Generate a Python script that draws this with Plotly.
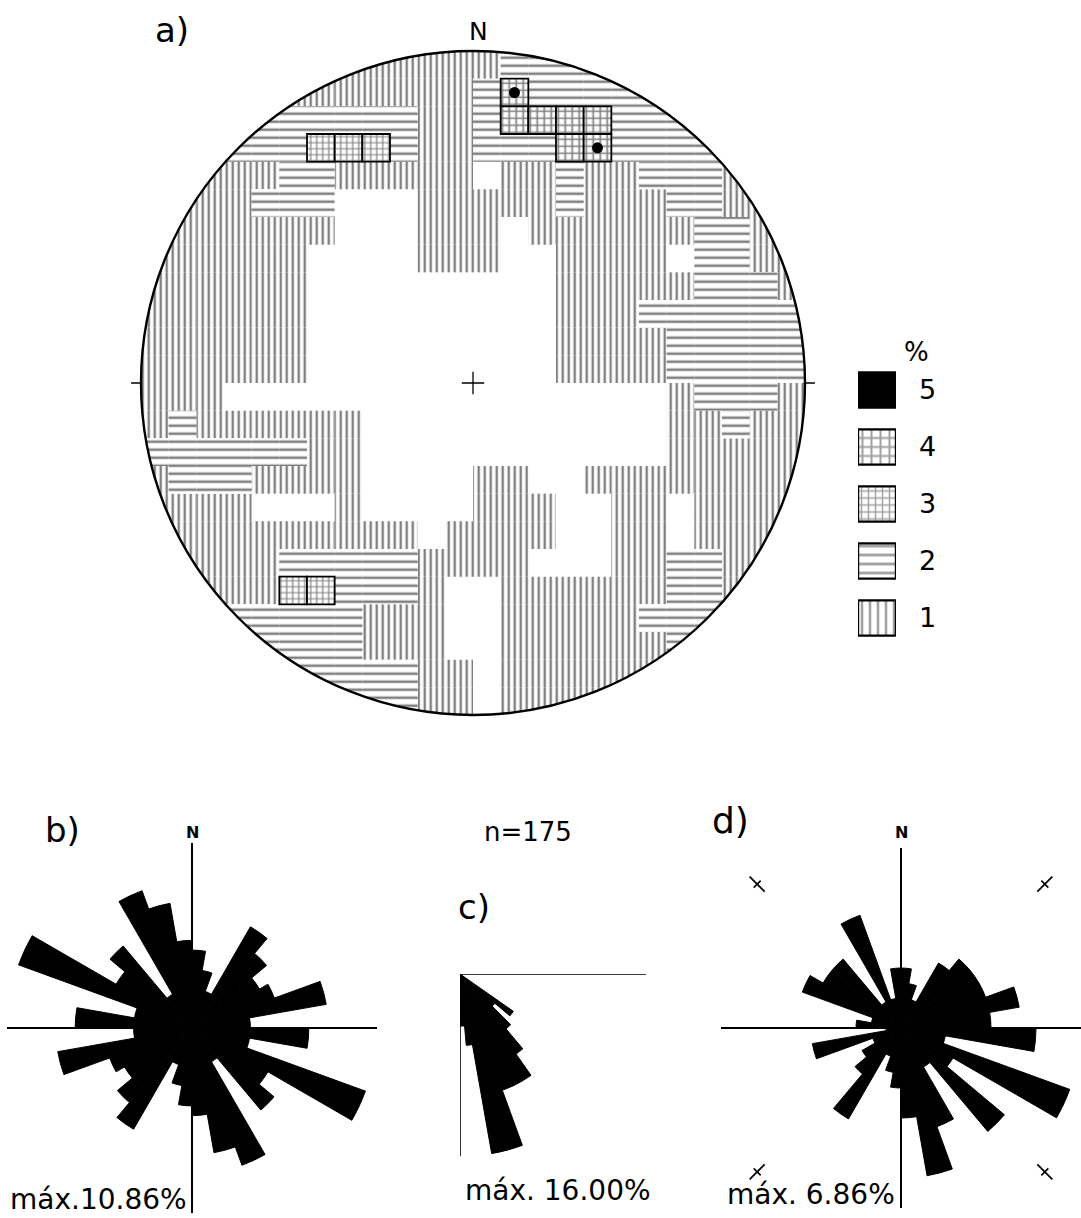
import math
import plotly.graph_objects as go

W, H = 1081, 1218

# ---------------- panel a: density levels (%), 24x24 grid, row 0 = north ----------------
LEVEL_GRID = [
    ".......1111112222.......",
    ".....11111112522222.....",
    "....2222221124444222....",
    "...222333211222452222...",
    "..11122111110112112221..",
    ".1112220001111121112211.",
    ".1111110001110111111221.",
    "111111000011100111102211",
    "111111000000000111112221",
    "111111000000000111222222",
    "111111000000000111122222",
    "111111000000000111122222",
    "111000000000000000012221",
    "121111110000000000011211",
    "222222110000000000011111",
    "122211110000110011111111",
    "111100010000111001101111",
    ".1111111110111100110111.",
    ".1111222221111000112211.",
    "..11133222100111111221..",
    "...222221110011111222...",
    "....2222111001111112....",
    ".....22222110111111.....",
    ".......2221101111.......",
]
LEGEND_LEVELS = [1, 2, 3, 4, 5]
LEGEND_LABELS = ["1", "2", "3", "4", "5"]

# ---------------- rose diagrams (n = 175) ----------------
N_TOTAL = 175
# b) axial data, 10 degree bins 0-180 (mirrored)
B_AZIMUTH = [5, 15, 25, 35, 45, 55, 65, 75, 85, 95, 105, 115, 125, 135, 145, 155, 165, 175]
B_COUNTS = [8, 6, 4, 12, 10, 8, 9, 14, 6, 12, 6, 19, 9, 11, 4, 15, 13, 9]
# c) dip angles, 5 degree bins
C_DIP = [37.5, 42.5, 47.5, 52.5, 57.5, 62.5, 67.5, 72.5, 77.5, 82.5, 87.5]
C_COUNTS = [10, 7, 11, 15, 19, 19, 19, 28, 28, 11, 8]
# d) directions, 10 degree bins 0-360
D_AZIMUTH = [5, 15, 25, 35, 45, 55, 65, 75, 85, 95, 105, 115, 125, 135, 145, 155, 165, 175,
             185, 195, 205, 215, 225, 235, 245, 255, 265, 275, 285, 295, 305, 315, 325, 335, 345, 355]
D_COUNTS = [4, 3, 2, 5, 6, 6, 6, 8, 6, 9, 3, 12, 4, 9, 3, 7, 10, 6,
            4, 3, 2, 7, 4, 3, 2, 6, 1, 3, 2, 7, 6, 6, 2, 8, 2, 4]
D_MARK_AZIMUTH = [45, 135, 225, 315]

FONT = "DejaVu Sans"


def px(x):
    return x / W


def py(y):
    return 1 - y / H


fig = go.Figure()

# ---------- stereonet ----------
NG = len(LEVEL_GRID)
cell = 2.0 / NG
STYLES = {
    1: dict(shape="|", size=6, solidity=0.4),
    2: dict(shape="-", size=8, solidity=0.32),
    3: dict(shape="+", size=6, solidity=0.36),
    4: dict(shape="+", size=7, solidity=0.42),
}
peak_x, peak_y = [], []
for lev in [1, 2, 3, 4]:
    xs, bases = [], []
    for j, row in enumerate(LEVEL_GRID):
        for i, ch in enumerate(row):
            if ch == ".":
                continue
            v = int(ch)
            if v == lev or (lev == 4 and v == 5):
                xs.append(-1 + (i + 0.5) * cell)
                bases.append(1 - (j + 1) * cell)
                if v == 5:
                    peak_x.append(-1 + (i + 0.5) * cell)
                    peak_y.append(1 - (j + 0.5) * cell)
    fig.add_trace(go.Bar(
        x=xs, y=[cell] * len(xs), base=bases, width=cell,
        xaxis="x", yaxis="y", hoverinfo="skip", showlegend=False,
        marker=dict(color="white",
                    line=dict(width=1.8 if lev >= 3 else 0, color="black"),
                    pattern=dict(fillmode="overlay", fgcolor="black", **STYLES[lev])),
    ))

fig.add_trace(go.Scatter(x=peak_x, y=peak_y, mode="markers", xaxis="x", yaxis="y",
                         marker=dict(color="black", size=11, symbol="circle"),
                         hoverinfo="skip", showlegend=False))
# centre cross and E/W ticks
fig.add_trace(go.Scatter(x=[0], y=[0], mode="markers", xaxis="x", yaxis="y",
                         marker=dict(symbol="cross-thin", size=16, line=dict(width=1.3, color="black")),
                         hoverinfo="skip", showlegend=False))
fig.add_trace(go.Scatter(x=[-1.013, 1.013], y=[0, 0], mode="markers", xaxis="x", yaxis="y",
                         marker=dict(symbol="line-ew", size=8, line=dict(width=1.3, color="black")),
                         hoverinfo="skip", showlegend=False))

# white mask outside the net
circ = [(math.cos(2 * math.pi * k / 240), math.sin(2 * math.pi * k / 240)) for k in range(240)]
path = "M -1 -1 L 1 -1 L 1 1 L -1 1 Z M " + " L ".join(f"{a:.5f} {b:.5f}" for a, b in circ) + " Z"
shapes = [
    dict(type="path", path=path, xref="x", yref="y", fillcolor="white", fillrule="evenodd",
         line=dict(width=0), layer="above"),
    dict(type="circle", xref="x", yref="y", x0=-1, y0=-1, x1=1, y1=1,
         line=dict(color="black", width=2.4), layer="above"),
]

CX, CY, R = 473, 383, 332
E = 1.04

# ---------- legend ----------
leg_colors = ["white", "white", "white", "white", "black"]
leg_shapes = ["|", "-", "+", "+", ""]
leg_sizes = [8, 9, 7, 9, 8]
leg_sol = [0.32, 0.32, 0.36, 0.4, 0.2]
fig.add_trace(go.Bar(
    y=LEGEND_LEVELS, x=[1] * 5, orientation="h", width=0.62, xaxis="x2", yaxis="y2",
    hoverinfo="skip", showlegend=False,
    marker=dict(color=leg_colors, line=dict(color="black", width=2.4),
                pattern=dict(shape=leg_shapes, size=leg_sizes, solidity=leg_sol,
                             fgcolor="black", fillmode="overlay")),
))

# ---------- rose diagrams ----------
pct = lambda c: [v / N_TOTAL * 100 for v in c]
b_pct = pct(B_COUNTS)
c_pct = pct(C_COUNTS)
d_pct = pct(D_COUNTS)
bmax, cmax, dmax = max(b_pct), max(c_pct), max(d_pct)

BAR_MARKER = dict(color="black", line=dict(width=1.0, color="black"))
fig.add_trace(go.Barpolar(theta=B_AZIMUTH + [a + 180 for a in B_AZIMUTH], r=b_pct + b_pct,
                          width=10, subplot="polar", marker=BAR_MARKER,
                          hoverinfo="skip", showlegend=False))
fig.add_trace(go.Barpolar(theta=C_DIP, r=c_pct, width=5, subplot="polar2", marker=BAR_MARKER,
                          hoverinfo="skip", showlegend=False))
# c) axes: horizontal (0 deg dip) and vertical (90 deg dip)
fig.add_trace(go.Scatterpolar(theta=[0, 0, 90], r=[cmax * 1.02, 0, cmax * 1.0], mode="lines",
                              subplot="polar2", line=dict(color="black", width=1.6),
                              hoverinfo="skip", showlegend=False))
fig.add_trace(go.Barpolar(theta=D_AZIMUTH, r=d_pct, width=10, subplot="polar3", marker=BAR_MARKER,
                          hoverinfo="skip", showlegend=False))

# d) corner marks on an overlay cartesian frame sharing the rose's scale
mr = dmax * 1.13
mx = [mr * math.sin(math.radians(a)) for a in D_MARK_AZIMUTH]
my = [mr * math.cos(math.radians(a)) for a in D_MARK_AZIMUTH]
radial_sym = ["line-ne" if a in (45, 225) else "line-nw" for a in D_MARK_AZIMUTH]
cross_sym = ["line-nw" if a in (45, 225) else "line-ne" for a in D_MARK_AZIMUTH]
fig.add_trace(go.Scatter(x=mx, y=my, mode="markers", xaxis="x3", yaxis="y3",
                         marker=dict(symbol=radial_sym, size=15, line=dict(width=1.8, color="black")),
                         hoverinfo="skip", showlegend=False))
fig.add_trace(go.Scatter(x=mx, y=my, mode="markers", xaxis="x3", yaxis="y3",
                         marker=dict(symbol=cross_sym, size=7, line=dict(width=1.6, color="black")),
                         hoverinfo="skip", showlegend=False))


def polar_common(rng, tickvals, rotation, showgrid=True, sector=None):
    d = dict(
        bgcolor="rgba(0,0,0,0)",
        radialaxis=dict(visible=False, range=[0, rng], showgrid=False),
        angularaxis=dict(direction="clockwise", rotation=rotation, tickmode="array",
                         tickvals=tickvals, showticklabels=False, ticks="", showline=False,
                         showgrid=showgrid, gridcolor="black", gridwidth=1.5),
    )
    if sector:
        d["sector"] = sector
    return d


DOM_B = dict(x=[px(7), px(377)], y=[py(1213), py(843)])
DOM_C = dict(x=[px(460), px(646)], y=[py(1160), py(974)])
DOM_D = dict(x=[px(721), 1.0], y=[py(1208), py(848)])

pb = polar_common(bmax, [0, 90, 180, 270], 90)
pb["domain"] = DOM_B
pc = polar_common(cmax * 1.02, [0, 90], 0, showgrid=False, sector=[270, 360])
pc["domain"] = DOM_C
pd_ = polar_common(dmax, [0, 90, 180, 270], 90)
pd_["domain"] = DOM_D

ann = []


def text(x, y, s, size, xanchor="center", bold=False):
    ann.append(dict(x=px(x), y=py(y), xref="paper", yref="paper", text=f"<b>{s}</b>" if bold else s,
                    showarrow=False, xanchor=xanchor, yanchor="middle",
                    font=dict(family=FONT, size=size, color="black")))


text(172, 30, "a)", 34)
text(478, 31, "N", 25)
text(917, 352, "%", 26)
text(62, 830, "b)", 34)
text(192, 832, "N", 16, bold=True)
text(528, 832, f"n={N_TOTAL}", 26)
text(474, 907, "c)", 34)
text(730, 820, "d)", 36)
text(901, 832, "N", 16, bold=True)
text(189, 1199, f"máx.{bmax:.2f}%", 28, xanchor="right")
text(558, 1190, f"máx. {cmax:.2f}%", 28)
text(897, 1194, f"máx. {dmax:.2f}%", 28, xanchor="right")

fig.update_layout(
    width=W, height=H, margin=dict(l=0, r=0, t=0, b=0),
    paper_bgcolor="white", plot_bgcolor="rgba(0,0,0,0)", barmode="overlay", showlegend=False,
    xaxis=dict(domain=[px(CX - E * R), px(CX + E * R)], range=[-E, E], visible=False, fixedrange=True),
    yaxis=dict(domain=[py(CY + E * R), py(CY - E * R)], range=[-E, E], visible=False, fixedrange=True),
    xaxis2=dict(domain=[px(858), px(896)], range=[0, 1], visible=False, anchor="y2"),
    yaxis2=dict(domain=[py(646.5), py(361.5)], range=[0.5, 5.5], anchor="x2", side="right",
                tickmode="array", tickvals=LEGEND_LEVELS, ticktext=LEGEND_LABELS,
                showgrid=False, zeroline=False, showline=False, ticks="",
                ticklabelstandoff=22, tickfont=dict(family=FONT, size=27, color="black")),
    xaxis3=dict(domain=DOM_D["x"], range=[-dmax, dmax], visible=False, anchor="y3"),
    yaxis3=dict(domain=DOM_D["y"], range=[-dmax, dmax], visible=False, anchor="x3"),
    polar=pb, polar2=pc, polar3=pd_,
    shapes=shapes, annotations=ann,
)

fig.write_html("out.html", config={"displayModeBar": False},
               post_script="document.body.style.margin='0px';")
